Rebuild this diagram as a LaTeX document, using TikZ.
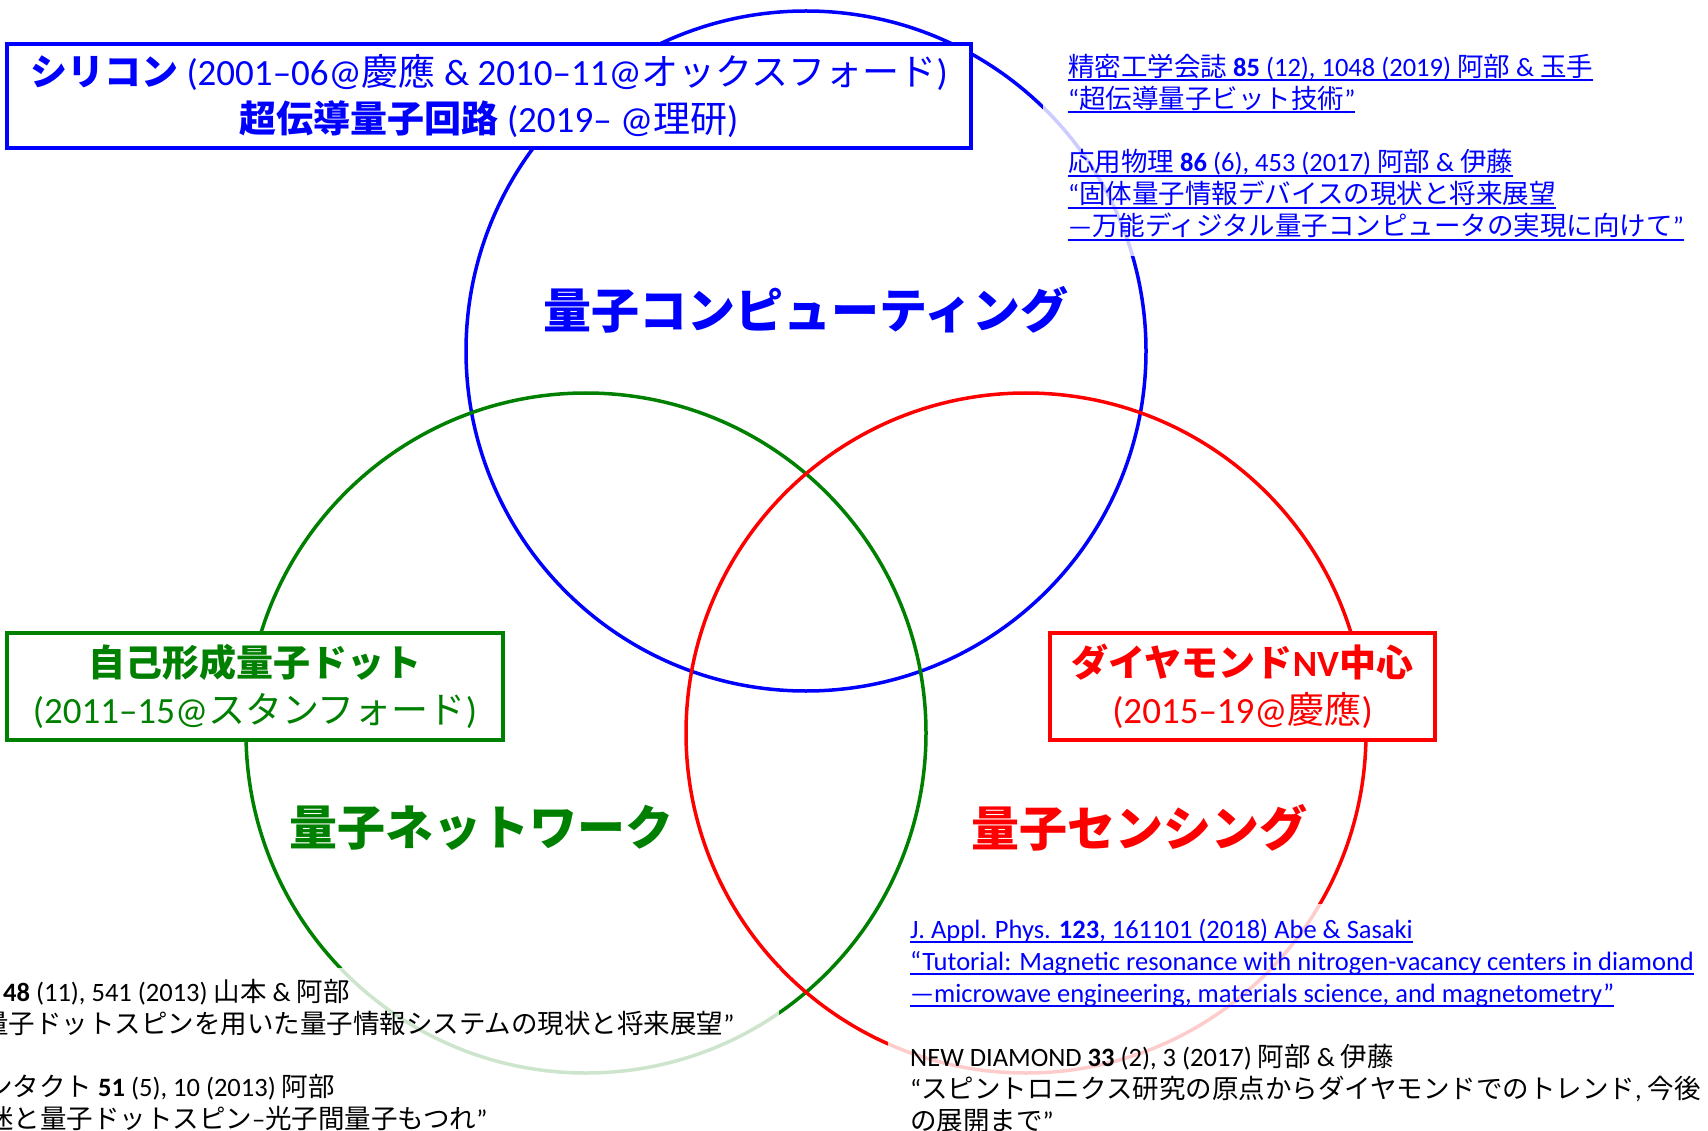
\documentclass[tikz,border=0pt]{standalone}
\usepackage{fontspec}
\setmainfont{Carlito}
\newfontfamily\cjk{Noto Sans CJK JP}
\newcommand\JP[1]{{\cjk #1}}
\newcommand\ulink[1]{\setbox0\hbox{#1}\rlap{\rule[-4.6pt]{\wd0}{1.6pt}}\box0}
\definecolor{cblue}{RGB}{0,0,255}
\definecolor{cgreen}{RGB}{0,128,0}
\definecolor{cred}{RGB}{255,0,0}
\tikzset{
  circ/.style={line width=3.5pt},
  veil/.style={fill=white, fill opacity=0.8, draw=none},
  boxst/.style={draw, line width=4.5pt, fill=white, inner sep=0pt, align=center,
    font=\fontsize{37}{47}\selectfont},
  titlest/.style={inner sep=0pt, font=\fontsize{48}{50}\selectfont\bfseries\cjk},
  cite/.style={anchor=base west, inner sep=0pt, font=\fontsize{26.5}{31.6}\selectfont},
}
\begin{document}
\begin{tikzpicture}[x=1pt,y=-1pt]
\useasboundingbox (0,0) rectangle (1708,1131);
% circles
\draw[circ, cblue] (806,351) circle[radius=340pt];
\draw[circ, cgreen] (586,733) circle[radius=340pt];
\draw[circ, cred] (1026,733) circle[radius=340pt];
% translucent backgrounds of the reference lists
\fill[veil] (1043,40) rectangle (1708,256);
\fill[veil] (0,968) rectangle (779,1131);
\fill[veil] (888,904) rectangle (1708,1131);
% boxes
\node[boxst, draw=cblue, text=cblue, minimum width=964pt, minimum height=104pt] (bluebox) at (489,96)
  {\textbf{\JP{シリコン}} (2001–06@\JP{慶應} \& 2010–11@\JP{オックスフォード})\\
   \textbf{\JP{超伝導量子回路}} (2019– @\JP{理研})};
\node[boxst, draw=cgreen, text=cgreen, minimum width=496pt, minimum height=107pt] (greenbox) at (255,686.5)
  {\textbf{\JP{自己形成量子ドット}}\\(2011–15@\JP{スタンフォード})};
\node[boxst, draw=cred, text=cred, minimum width=385pt, minimum height=107pt] (redbox) at (1242.5,686.5)
  {\textbf{\JP{ダイヤモンド}NV\JP{中心}}\\(2015–19@\JP{慶應})};
% titles
\node[titlest, text=cblue] (tcomp) at (806,310) {量子コンピューティング};
\node[titlest, text=cgreen] (tnet) at (481,828) {量子ネットワーク};
\node[titlest, text=cred] (tsens) at (1139,828) {量子センシング};
% upper right references
\node[cite, text=cblue] (ur1) at (1068,76.5) {\ulink{\JP{精密工学会誌} \textbf{85} (12), 1048 (2019) \JP{阿部} \& \JP{玉手}}};
\node[cite, text=cblue] (ur2) at (1068,108.5) {\ulink{“\JP{超伝導量子ビット技術}”}};
\node[cite, text=cblue] (ur3) at (1068,172) {\ulink{\JP{応用物理} \textbf{86} (6), 453 (2017) \JP{阿部} \& \JP{伊藤}}};
\node[cite, text=cblue] (ur4) at (1068,204) {\ulink{“\JP{固体量子情報デバイスの現状と将来展望}}};
\node[cite, text=cblue] (ur5) at (1068,236) {\ulink{—\JP{万能ディジタル量子コンピュータの実現に向けて}”}};
% bottom right references
\node[cite, text=cblue] (br1) at (910,938) {\ulink{J. Appl. Phys. \textbf{123}, 161101 (2018) Abe \& Sasaki}};
\node[cite, text=cblue] (br2) at (910,970) {\ulink{“Tutorial: Magnetic resonance with nitrogen-vacancy centers in diamond}};
\node[cite, text=cblue] (br3) at (910,1002) {\ulink{—microwave engineering, materials science, and magnetometry”}};
\node[cite, text=black] (br4) at (910,1066) {NEW DIAMOND \textbf{33} (2), 3 (2017) \JP{阿部} \& \JP{伊藤}};
\node[cite, text=black] (br5) at (910,1098) {“\JP{スピントロニクス研究の原点からダイヤモンドでのトレンド}, \JP{今後}};
\node[cite, text=black] (br6) at (910,1130) {\JP{の展開まで}”};
% bottom left references (cut by the left edge, as in the reference)
\node[cite, text=black] (bl1) at (3,1001) {\textbf{48} (11), 541 (2013) \JP{山本} \& \JP{阿部}};
\node[cite, text=black] (bl2) at (-18,1033) {\JP{量子ドットスピンを用いた量子情報システムの現状と将来展望}”};
\node[cite, text=black] (bl3) at (-14,1096) {\JP{ンタクト} \textbf{51} (5), 10 (2013) \JP{阿部}};
\node[cite, text=black] (bl4) at (-13,1128) {\JP{迷と量子ドットスピン}–\JP{光子間量子もつれ}”};
\end{tikzpicture}
\end{document}
